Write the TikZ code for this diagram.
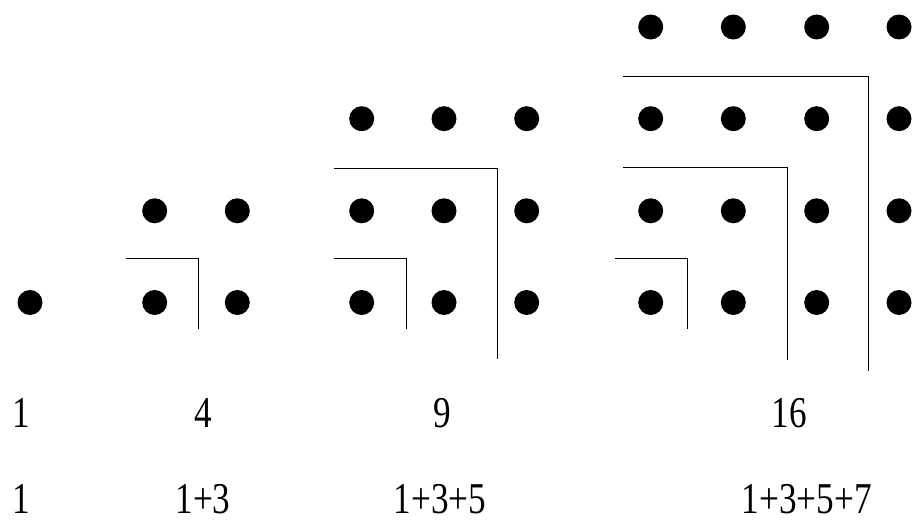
\documentclass[tikz,border=0pt]{standalone}
\usepackage{fontspec}
\newfontfamily\numfont[FakeStretch=0.8]{Liberation Serif}

\begin{document}
\begin{tikzpicture}[x=1pt,y=-1pt,line width=1.2pt]
  \tikzstyle{vertex}=[circle,fill=black,minimum size=25pt,inner sep=0pt]
  \tikzstyle{number}=[anchor=base,inner sep=0pt,text depth=0pt,font=\numfont\fontsize{44}{50}\selectfont]
  \useasboundingbox (0,0) rectangle (916,521);

  \node[vertex] (A_11) at (30,302.5) {};

  \node[vertex] (B_11) at (154.7,302.5) {};
  \node[vertex] (B_21) at (237.3,302.5) {};
  \node[vertex] (B_12) at (154.7,210.8) {};
  \node[vertex] (B_22) at (237.3,210.8) {};

  \node[vertex] (C_11) at (361.7,302.5) {};
  \node[vertex] (C_21) at (444,302.5) {};
  \node[vertex] (C_31) at (526.7,302.5) {};
  \node[vertex] (C_12) at (361.7,210.8) {};
  \node[vertex] (C_22) at (444,210.8) {};
  \node[vertex] (C_32) at (526.7,210.8) {};
  \node[vertex] (C_13) at (361.7,118.7) {};
  \node[vertex] (C_23) at (444,118.7) {};
  \node[vertex] (C_33) at (526.7,118.7) {};

  \node[vertex] (D_11) at (650.7,302.5) {};
  \node[vertex] (D_21) at (733.3,302.5) {};
  \node[vertex] (D_31) at (816.7,302.5) {};
  \node[vertex] (D_41) at (899,302.5) {};
  \node[vertex] (D_12) at (650.7,210.8) {};
  \node[vertex] (D_22) at (733.3,210.8) {};
  \node[vertex] (D_32) at (816.7,210.8) {};
  \node[vertex] (D_42) at (899,210.8) {};
  \node[vertex] (D_13) at (650.7,118.7) {};
  \node[vertex] (D_23) at (733.3,118.7) {};
  \node[vertex] (D_33) at (816.7,118.7) {};
  \node[vertex] (D_43) at (899,118.7) {};
  \node[vertex] (D_14) at (650.7,27) {};
  \node[vertex] (D_24) at (733.3,27) {};
  \node[vertex] (D_34) at (816.7,27) {};
  \node[vertex] (D_44) at (899,27) {};

  \draw (126,258.3) -- (198.3,258.3) -- (198.3,329.3);

  \draw (334,258.3) -- (406.7,258.3) -- (406.7,329.3);
  \draw (334,168.7) -- (497.3,168.7) -- (497.3,359.3);

  \draw (615,258.3) -- (687.3,258.3) -- (687.3,329);
  \draw (623.3,167.7) -- (787.7,167.7) -- (787.7,360);
  \draw (623.3,76.7) -- (868.7,76.7) -- (868.7,370.7);

  \node[number] (N_1) at (21,428) {1};
  \node[number] (N_4) at (203,428) {4};
  \node[number] (N_9) at (442,428) {9};
  \node[number] (N_16) at (789.5,428) {16};

  \node[number] (S_1) at (21,513) {1};
  \node[number] (S_4) at (203,513) {1+3};
  \node[number] (S_9) at (440,513) {1+3+5};
  \node[number] (S_16) at (806.7,513) {1+3+5+7};

\end{tikzpicture}
\end{document}
